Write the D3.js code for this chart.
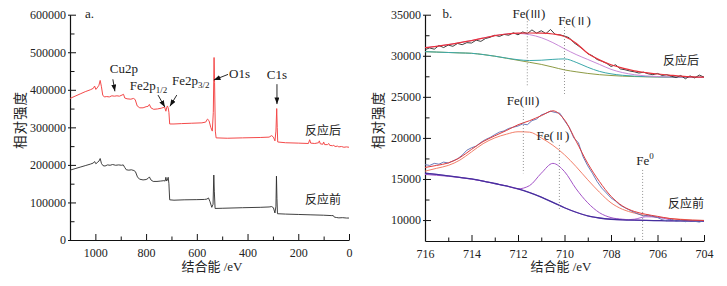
<!DOCTYPE html>
<html><head><meta charset="utf-8">
<script src="https://cdn.jsdelivr.net/npm/d3@7"></script>
<style>
body{margin:0;background:#fff}
svg{display:block}
text{font-family:"Liberation Serif","Times New Roman","Noto Sans CJK SC",serif;fill:#222}
.cjk{font-family:"Noto Sans CJK SC",sans-serif}
</style>
</head><body><svg id="c" width="727" height="286"></svg>
<script>
// ---------- Panel a: survey spectra [binding energy eV, intensity] ----------
const surveyAfter = [[1100,377000],[1080,383000],[1060,389000],[1040,395000],[1020,400000],[1008,404000],[1003,410000],[998,401000],[993,405000],[986,412000],[981,425000],[976,408000],[971,386000],[965,381000],[955,382000],[945,381000],[935,384000],[925,383000],[915,384000],[905,383000],[895,386000],[889,388000],[884,378000],[875,376000],[860,375000],[850,377000],[843,374000],[835,357000],[825,352000],[812,352000],[800,355000],[792,356000],[787,361000],[781,352000],[770,348000],[755,349000],[740,351000],[727,354000],[722,343000],[719,352000],[716,357000],[713,352000],[710,340000],[707,309000],[690,309000],[660,310000],[620,311000],[580,312000],[565,314000],[558,322000],[552,318000],[545,300000],[539,290000],[535,340000],[532,486000],[530,420000],[527,290000],[524,272000],[480,271000],[420,272000],[350,273000],[315,274000],[305,278000],[298,274000],[292,264000],[288,290000],[285,350000],[283,300000],[281,261000],[250,259000],[200,258000],[160,257000],[155,267000],[151,258000],[135,257000],[120,259000],[117,264000],[113,256000],[103,255000],[100,261000],[96,254000],[85,254000],[80,257000],[76,252000],[65,251000],[60,252000],[55,249000],[45,250000],[40,248000],[30,249000],[20,247000],[10,248000],[0,247000]];
const surveyBefore = [[1100,186000],[1080,190000],[1060,194000],[1040,198000],[1020,202000],[1008,205000],[1003,209000],[998,203000],[993,206000],[986,210000],[981,217000],[976,204000],[970,198000],[962,197000],[952,200000],[942,199000],[932,201000],[920,199000],[908,200000],[897,199000],[890,200000],[884,193000],[878,187000],[868,186000],[858,187000],[848,185000],[842,182000],[834,168000],[826,162000],[812,160000],[800,161000],[792,164000],[787,168000],[781,160000],[772,156000],[757,156000],[742,157000],[730,158000],[725,157000],[722,167000],[719,157000],[716,160000],[713,167000],[710,150000],[707,107000],[690,106000],[650,107000],[600,107500],[570,108000],[560,109000],[554,112000],[548,102000],[541,87000],[536,95000],[533,173000],[531,130000],[528,84000],[500,84500],[420,86000],[350,87000],[315,88000],[305,89000],[298,86000],[292,72000],[288,90000],[286,170000],[284,110000],[282,70000],[250,69000],[200,68000],[150,67000],[100,66000],[70,65000],[62,65000],[58,61000],[50,60000],[40,59000],[25,59500],[10,58500],[0,58500]];
const xTicksA = [1000,800,600,400,200,0];
const xMinorA = [900,700,500,300,100];
const yTicksA = [0,100000,200000,300000,400000,500000,600000];
const yMinorA = [50000,150000,250000,350000,450000,550000];
// peak annotations: label, text anchor [BE, I], arrow tail, arrow tip
const peakLabels = [
  {main:"Cu2p", sub:"", text:[943,444000], tail:[931,428000], tip:[923,396000]},
  {main:"Fe2p", sub:"1/2", text:[864,399000], tail:[753,386000], tip:[726,354000]},
  {main:"Fe2p", sub:"3/2", text:[698,412000], tail:[679,386000], tip:[706,356000]},
  {main:"O1s", sub:"", text:[473,431000], tail:[477,441000], tip:[533,426000]},
  {main:"C1s", sub:"", text:[284,428000], tail:[284,415000], tip:[284,362000], center:true}
];

// ---------- Panel b: Fe2p3/2 high resolution ----------
const fitBE = [716,715.5,715,714.5,714,713.5,713,712.5,712,711.5,711,710.5,710,709.5,709,708.5,708,707.5,707,706.5,706,705.5,705,704.5,704];
const afterBg  = [30500,30450,30400,30350,30300,30150,29950,29700,29450,29200,28950,28620,28280,28050,27850,27700,27600,27520,27470,27440,27420,27400,27390,27380,27370];
const afterFe2 = [30500,30450,30400,30350,30300,30150,29950,29720,29520,29420,29460,29560,29620,29200,28600,28100,27800,27620,27520,27460,27430,27405,27390,27380,27370];
const afterFe3 = [30990,31150,31350,31600,31850,32150,32450,32650,32720,32570,32200,31600,30850,30150,29550,28950,28350,27950,27700,27550,27470,27420,27400,27380,27370];
const afterFit = [30990,31150,31350,31600,31850,32150,32450,32650,32750,32770,32750,32650,32350,31530,30300,29500,28900,28500,28170,27950,27780,27650,27520,27430,27390];
const beforeBg  = [15700,15550,15380,15200,15000,14750,14450,14150,13800,13350,12800,12150,11500,10950,10500,10250,10100,10020,9980,9950,9930,9910,9900,9880,9870];
const beforeFe2 = [15550,15450,15330,15170,14980,14740,14440,14150,13800,14200,15700,16900,15900,13800,12100,10900,10300,10100,10000,9960,9930,9910,9900,9880,9870];
const beforeFe0 = [15700,15550,15380,15200,15000,14750,14450,14150,13800,13350,12800,12150,11500,10950,10500,10250,10100,10030,10100,10400,10350,10050,9910,9880,9870];
const beforeFe3 = [15950,16300,16650,17300,18300,19300,20000,20450,20750,20700,20000,19100,17950,16500,14900,13400,12100,11300,10850,10550,10350,10200,10100,10000,9950];
const beforeFit = [16400,16650,16950,17600,18600,19550,20250,20900,21600,22100,22700,23300,22200,19600,16900,14700,12900,11700,11050,10700,10450,10200,10050,9980,9950];
const rawBE = [716,715.8,715.6,715.4,715.2,715,714.8,714.6,714.4,714.2,714,713.8,713.6,713.4,713.2,713,712.8,712.6,712.4,712.2,712,711.8,711.6,711.4,711.2,711,710.8,710.6,710.4,710.2,710,709.8,709.6,709.4,709.2,709,708.8,708.6,708.4,708.2,708,707.8,707.6,707.4,707.2,707,706.8,706.6,706.4,706.2,706,705.8,705.6,705.4,705.2,705,704.8,704.6,704.4,704.2,704];
const afterRaw = [30750,30950,30800,31250,31000,31300,31150,31500,31350,31600,31550,31900,31750,32100,32250,32500,32350,32600,32500,32800,32550,32900,32700,33150,32750,33050,32700,33200,32600,32550,32400,32200,31600,31200,30800,30250,30000,29550,29350,29100,28700,28900,28400,28300,28150,28050,27900,28000,27800,27700,27850,27600,27700,27500,27350,27600,27200,27550,27300,27650,27400];
const beforeRaw = [16750,16650,16900,16800,17050,16950,17200,17450,17900,18500,18800,19000,19450,19800,20050,20400,20700,20850,21150,21300,21450,21700,21600,22100,22300,22800,23000,23250,23100,23000,22100,21300,20000,19400,17700,16600,15700,14700,13900,13300,12700,12300,11800,11500,11200,10950,10700,10500,10600,10450,10300,10050,9900,10100,9850,9950,9800,9950,9850,9750,9950];
const xTicksB = [716,714,712,710,708,706,704];
const xMinorB = [715,713,711,709,707,705];
const yTicksB = [10000,15000,20000,25000,30000,35000];
const yMinorB = [12500,17500,22500,27500,32500];
// state labels: element, roman numeral, superscript, guide line x (BE), line top, line bottom, text position
const stateLabels = [
  {t:"Fe(", r:"Ⅲ", sup:"", be:711.6, y1:34200, y2:26240, tx:711.53, ty:34570},
  {t:"Fe(", r:"Ⅱ", sup:"", be:710.0, y1:33500, y2:25350, tx:709.57, ty:33750},
  {t:"Fe(", r:"Ⅲ", sup:"", be:711.77, y1:23400, y2:15690, tx:711.78, ty:24010},
  {t:"Fe(", r:"Ⅱ", sup:"", be:710.22, y1:19140, y2:11230, tx:710.5, ty:19750},
  {t:"Fe", r:"", sup:"0", be:706.64, y1:16100, y2:7450, tx:706.54, ty:16705}
];

const svg = d3.select("#c");
const defs = svg.append("defs");
defs.append("marker").attr("id","arr").attr("viewBox","0 0 8 6").attr("refX",8).attr("refY",3)
  .attr("markerWidth",7).attr("markerHeight",5).attr("markerUnits","userSpaceOnUse").attr("orient","auto")
  .append("path").attr("d","M0,0L8,3L0,6Z").attr("fill","#111");

// scales
const xA = d3.scaleLinear().domain([1100,0]).range([70,349]);
const yA = d3.scaleLinear().domain([0,600000]).range([240,14.7]);
const xB = d3.scaleLinear().domain([716,704]).range([425,704]);
const yB = d3.scaleLinear().domain([7450,35000]).range([241,14.7]);

function styleAxis(g, fs){
  g.attr("font-family",null).attr("font-size",null);
  g.selectAll("text").attr("font-size",fs).attr("fill","#222");
  g.selectAll("line").attr("stroke","#111");
  g.selectAll(".domain").attr("stroke","#111").attr("stroke-width",1.2);
}
function axes(x, y, xt, xm, yt, ym, yZero, xZero, fmt){
  const gxm = svg.append("g").attr("transform",`translate(0,${yZero})`)
    .call(d3.axisBottom(x).tickValues(xm).tickSize(-3.5).tickFormat(""));
  gxm.select(".domain").remove(); styleAxis(gxm, 11.5);
  const gym = svg.append("g").attr("transform",`translate(${xZero},0)`)
    .call(d3.axisLeft(y).tickValues(ym).tickSize(-4.5).tickFormat(""));
  gym.select(".domain").remove(); styleAxis(gym, 11.5);
  const gx = svg.append("g").attr("transform",`translate(0,${yZero})`)
    .call(d3.axisBottom(x).tickValues(xt).tickSize(-6).tickSizeOuter(0).tickPadding(8).tickFormat(d3.format("d")));
  styleAxis(gx, 12);
  const gy = svg.append("g").attr("transform",`translate(${xZero},0)`)
    .call(d3.axisLeft(y).tickValues(yt).tickSize(-6).tickSizeOuter(0).tickPadding(4).tickFormat(fmt));
  gy.selectAll(".tick line").attr("x1",-2);
  styleAxis(gy, 12);
}
axes(xA, yA, xTicksA, xMinorA, yTicksA, yMinorA, 240, 70, d3.format("d"));
axes(xB, yB, xTicksB, xMinorB, yTicksB, yMinorB, 241, 425, d3.format("d"));

// ---- panel a lines
const lineA = d3.line().x(d=>xA(d[0])).y(d=>yA(d[1]));
svg.append("path").attr("d",lineA(surveyBefore)).attr("fill","none").attr("stroke","#2b2b2b").attr("stroke-width",0.9);
svg.append("path").attr("d",lineA(surveyAfter)).attr("fill","none").attr("stroke","#f44a4a").attr("stroke-width",1);

peakLabels.forEach(p=>{
  svg.append("line").attr("x1",xA(p.tail[0])).attr("y1",yA(p.tail[1])).attr("x2",xA(p.tip[0])).attr("y2",yA(p.tip[1]))
    .attr("stroke","#111").attr("stroke-width",0.9).attr("marker-end","url(#arr)");
  const t = svg.append("text").attr("x",xA(p.text[0])).attr("y",yA(p.text[1])).attr("font-size",13)
    .attr("text-anchor",p.center?"middle":"start");
  t.append("tspan").text(p.main);
  if(p.sub) t.append("tspan").attr("font-size",9).attr("dy",3).text(p.sub);
});

// ---- panel b lines
const fitLine = arr => d3.line().curve(d3.curveMonotoneX).x((d,i)=>xB(fitBE[i])).y(d=>yB(d))(arr);
const rawLine = arr => d3.line().x((d,i)=>xB(rawBE[i])).y(d=>yB(d))(arr);
function path(d, c, w){ svg.append("path").attr("d",d).attr("fill","none").attr("stroke",c).attr("stroke-width",w); }
path(fitLine(afterBg), "#8e9b45", 1);
path(fitLine(afterFe2), "#3aa8aa", 1);
path(fitLine(afterFe3), "#c98bd9", 1);
path(rawLine(afterRaw), "#2a2a2a", 0.9);
path(fitLine(afterFit), "#e8323c", 1.2);
path(fitLine(beforeFe3), "#f2806a", 1);
path(fitLine(beforeFe0), "#a455c8", 0.9);
path(fitLine(beforeFe2), "#a455c8", 1);
path(fitLine(beforeBg), "#45309e", 1.3);
path(rawLine(beforeRaw), "#5b6bb0", 0.9);
path(fitLine(beforeFit), "#e03c3c", 1);

stateLabels.forEach(s=>{
  svg.append("line").attr("x1",xB(s.be)).attr("x2",xB(s.be)).attr("y1",yB(s.y1)).attr("y2",yB(s.y2))
    .attr("stroke","#777").attr("stroke-width",0.8).attr("stroke-dasharray","1,2");
  const t = svg.append("text").attr("x",xB(s.tx)).attr("y",yB(s.ty)).attr("font-size",13).attr("text-anchor","middle");
  t.append("tspan").text(s.t);
  if(s.r){ t.append("tspan").attr("class","cjk").attr("font-size",11).text(s.r); t.append("tspan").text(")"); }
  if(s.sup) t.append("tspan").attr("font-size",9).attr("dy",-6).text(s.sup);
});

// ---- labels
const labA = [["反应后",173,279000],["反应前",173,96000]];
labA.forEach(l=>svg.append("text").attr("class","cjk").attr("x",xA(l[1])).attr("y",yA(l[2])).attr("font-size",12).text(l[0]));
const labB = [["反应后",705.76,28880],["反应前",705.55,11470]];
labB.forEach(l=>svg.append("text").attr("class","cjk").attr("x",xB(l[1])).attr("y",yB(l[2])).attr("font-size",12).text(l[0]));

svg.append("text").attr("x",85).attr("y",17.5).attr("font-size",13).text("a.");
svg.append("text").attr("x",442.5).attr("y",17.5).attr("font-size",13).text("b.");

[[19,120],[377,120]].forEach(p=>{
  svg.append("text").attr("class","cjk").attr("transform",`translate(${p[0]},${p[1]}) rotate(-90)`)
    .attr("text-anchor","middle").attr("dominant-baseline","central").attr("font-size",13.5)
    .attr("letter-spacing",1).text("相对强度");
});
[[212,271],[561,271]].forEach(p=>{
  svg.append("text").attr("x",p[0]).attr("y",p[1]).attr("text-anchor","middle").attr("font-size",13).text("结合能 /eV");
});
</script>
</body></html>
